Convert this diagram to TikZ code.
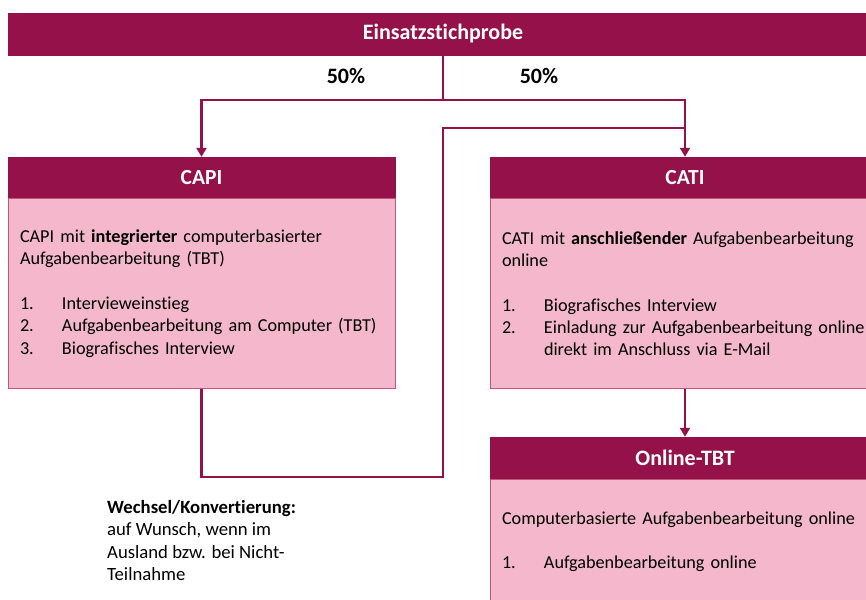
\documentclass[tikz,border=0pt]{standalone}
\usepackage{fontspec}
\setmainfont{Carlito}[Ligatures=NoCommon]
\usetikzlibrary{arrows.meta,positioning}
\definecolor{wine}{RGB}{149,17,74}
\definecolor{rose}{RGB}{244,183,204}
\definecolor{roseline}{RGB}{196,84,126}
\newcommand{\nr}[1]{\makebox[42pt][l]{#1}}

\begin{document}
\begin{tikzpicture}[x=1pt,y=-1pt,>={Triangle[width=10pt,length=9pt]},
		head/.style={draw=wine,fill=wine,text=white,font=\fontsize{21.5}{25}\selectfont\bfseries,minimum height=41pt,inner sep=0pt},
		body/.style={draw=roseline,line width=0.8pt,fill=rose,font=\fontsize{18.2}{22.3}\selectfont,align=left,inner xsep=12pt,inner ysep=0pt},
		conn/.style={draw=wine,line width=2.6pt},
		pct/.style={font=\fontsize{22}{24}\selectfont\bfseries}]
	\clip (0,0) rectangle (866,599);
	\node[head,minimum width=870pt,minimum height=42pt,font=\fontsize{22}{24}\selectfont\bfseries] (probe) at (443,34) {Einsatzstichprobe};
	\node[pct] (left50) at (346,76) {50\%};
	\node[pct] (right50) at (539,76) {50\%};
	% CAPI
	\node[head,minimum width=387pt] (capihead) at (201.5,177.5) {CAPI};
	\node[body,minimum width=387pt,text width=363pt,minimum height=190pt,below=0pt of capihead] (capibody)
		{CAPI mit \textbf{integrierter} computerbasierter\\Aufgabenbearbeitung (TBT)\\[22.3pt]
		\nr{1.}Intervieweinstieg\\\nr{2.}Aufgabenbearbeitung am Computer (TBT)\\\nr{3.}Biografisches Interview};
	% CATI
	\node[head,minimum width=390pt] (catihead) at (685,177.5) {CATI};
	\node[body,minimum width=390pt,text width=366pt,minimum height=190pt,below=0pt of catihead] (catibody)
		{CATI mit \textbf{anschließender} Aufgabenbearbeitung\\online\\[22.3pt]
		\nr{1.}Biografisches Interview\\\nr{2.}Einladung zur Aufgabenbearbeitung online\\\hspace*{42pt}direkt im Anschluss via E-Mail};
	% Online-TBT
	\node[head,minimum width=390pt,minimum height=42pt,font=\fontsize{22}{25}\selectfont\bfseries] (onlinehead) at (685,458) {Online-TBT};
	\node[body,minimum width=390pt,text width=366pt,minimum height=124pt,below=0pt of onlinehead] (onlinebody)
		{Computerbasierte Aufgabenbearbeitung online\\[22.3pt]\nr{1.}Aufgabenbearbeitung online};
	\node[font=\fontsize{18.7}{22.5}\selectfont,align=left,anchor=north west,inner sep=0pt] (wechsel) at (107,500)
		{\textbf{Wechsel/Konvertierung:}\\auf Wunsch, wenn im\\Ausland bzw. bei Nicht-\\Teilnahme};
	% connectors
	\coordinate (split) at (443,100);
	\coordinate (turn) at (443,477);
	\coordinate (join) at (685,128);
	\draw[conn] (probe.south) -- (split);
	\draw[conn,->] (split) -| (capihead.north);
	\draw[conn,->] (split) -| (catihead.north);
	\draw[conn] (capibody.south) |- (turn) -- (turn |- join) -- (join);
	\draw[conn,->] (catibody.south) -- (onlinehead.north);
\end{tikzpicture}
\end{document}
